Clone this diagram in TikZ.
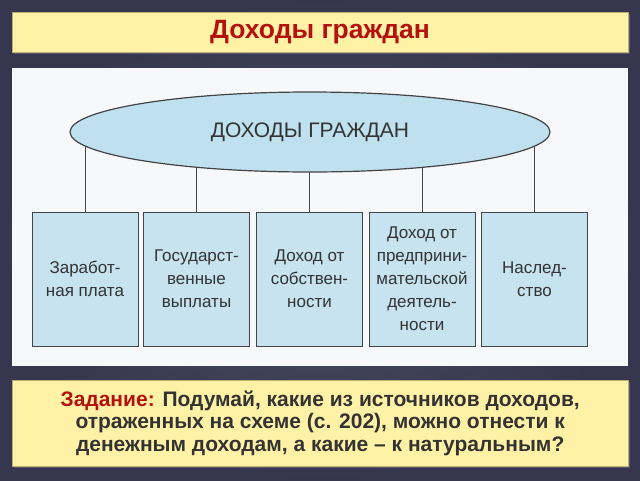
\documentclass[tikz,border=0pt]{standalone}
\usepackage{fontspec}
\setmainfont{Liberation Sans}
\usetikzlibrary{shapes.geometric,shadows}
\definecolor{bgc}{HTML}{45475E}
\definecolor{bgin}{HTML}{4C4E66}
\definecolor{bgout}{HTML}{36374F}
\definecolor{yel}{HTML}{FFF2A6}
\definecolor{yelb}{HTML}{B8AE7A}
\definecolor{titred}{HTML}{B3120F}
\definecolor{bluef}{HTML}{C6E3EF}
\definecolor{bluee}{HTML}{BFE0EE}
\definecolor{edgec}{HTML}{444444}
\definecolor{txt}{HTML}{333333}
\definecolor{panelc}{HTML}{F7F8F9}
\pgfdeclarelayer{bglayer}
\pgfdeclarelayer{lines}
\pgfsetlayers{bglayer,lines,main}
\tikzset{
  yellowbox/.style={draw=yelb, line width=0.6pt, fill=yel, minimum width=616pt, inner sep=0pt,
    drop shadow={shadow xshift=1.5pt, shadow yshift=-1.5pt, opacity=0.5}},
  srcbox/.style={draw=edgec, line width=1pt, fill=bluef, minimum width=106pt, minimum height=134pt,
    inner sep=2pt, align=center, text=txt, font=\fontsize{17}{23}\selectfont},
  topell/.style={ellipse, draw=edgec, line width=1.2pt, fill=bluee, minimum width=480pt, minimum height=80pt,
    inner sep=0pt, text=txt, font=\fontsize{21}{24}\selectfont},
  conn/.style={draw=edgec, line width=1pt}
}
\begin{document}
\begin{tikzpicture}[x=1pt,y=-1pt]
\useasboundingbox (0,0) rectangle (640,480);
\begin{pgfonlayer}{bglayer}
\shade[inner color=bgin, outer color=bgout] (0,0) rectangle (640,480);
\fill[panelc] (12,67.7) rectangle (627.7,365.7);
\end{pgfonlayer}
\node[yellowbox, minimum height=40.4pt, text=titred, font=\bfseries\fontsize{26.5}{30}\selectfont] (title) at (320,32.5) {Доходы граждан};
\node[topell] (e) at (310,132) {ДОХОДЫ ГРАЖДАН};
\node[srcbox] (b1) at (85,279) {Заработ-\\ная плата};
\node[srcbox] (b2) at (196.5,279) {Государст-\\венные\\выплаты};
\node[srcbox] (b3) at (309.5,279) {Доход от\\собствен-\\ности};
\node[srcbox] (b4) at (422,279) {Доход от\\предприни-\\мательской\\деятель-\\ности};
\node[srcbox] (b5) at (534.5,279) {Наслед-\\ство};
\begin{pgfonlayer}{lines}
\foreach \b in {b1,b2,b3,b4,b5}{
  \draw[conn] (\b.north) -- (\b.north |- e.center);
}
\end{pgfonlayer}
\node[yellowbox, minimum height=86.5pt, align=center, text=txt, font=\bfseries\fontsize{21}{22.8}\selectfont] (task) at (320.2,423.3)
  {\textcolor{titred}{Задание:} Подумай, какие из источников доходов,\\отраженных на схеме (с. 202), можно отнести к\\денежным доходам, а какие – к натуральным?};
\end{tikzpicture}
\end{document}
